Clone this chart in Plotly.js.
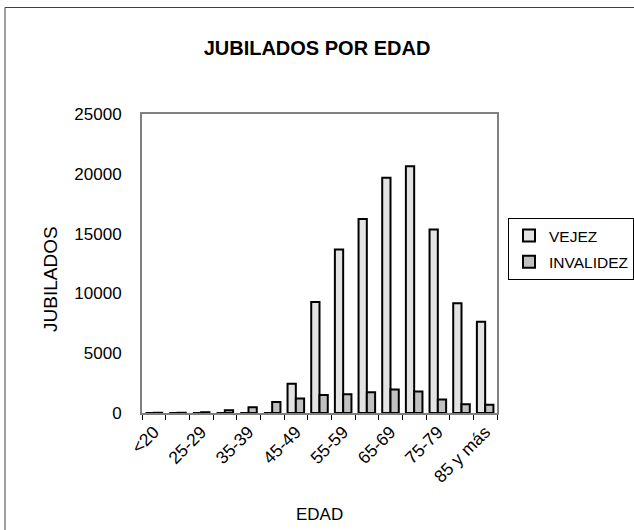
<!DOCTYPE html>
<html>
<head>
<meta charset="utf-8">
<script src="https://cdn.plot.ly/plotly-3.0.1.min.js"></script>
<style>
  html, body { margin: 0; padding: 0; background: #ffffff; }
  #chart { width: 634px; height: 530px; }
</style>
</head>
<body>
<div id="chart"></div>
<script>
const categories = ["<20", "20-24", "25-29", "30-34", "35-39", "40-44", "45-49", "50-54", "55-59", "60-64", "65-69", "70-74", "75-79", "80-84", "85 y más"];
const tickLabels = ["<20", "", "25-29", "", "35-39", "", "45-49", "", "55-59", "", "65-69", "", "75-79", "", "85 y más"];
const vejez = [0, 0, 0, 0, 0, 0, 2450, 9280, 13680, 16230, 19660, 20630, 15350, 9170, 7630];
const invalidez = [20, 20, 65, 230, 480, 930, 1205, 1510, 1570, 1735, 1955, 1790, 1120, 735, 680];
const yTicks = [0, 5000, 10000, 15000, 20000, 25000];
const yTickLabels = ["0", "5000", "10000", "15000", "20000", "25000"];

const FONT = "Liberation Sans, Arial, sans-serif";

const traces = [
  {
    type: "bar", name: "VEJEZ", x: categories, y: vejez, legendgroup: "a",
    marker: { color: "#e3e3e3", line: { color: "#000000", width: 2 } },
    hoverinfo: "x+y"
  },
  {
    type: "bar", name: "INVALIDEZ", x: categories, y: invalidez, legendgroup: "b",
    marker: { color: "#c0c0c0", line: { color: "#000000", width: 2 } },
    hoverinfo: "x+y"
  }
];

const layout = {
  width: 634, height: 530,
  margin: { l: 142, r: 137, t: 114, b: 117, autoexpand: false },
  paper_bgcolor: "#ffffff", plot_bgcolor: "#ffffff",
  font: { family: FONT, color: "#000000" },
  barmode: "group", bargap: 0.3, bargroupgap: 0,
  title: {
    text: "<b>JUBILADOS POR EDAD</b>",
    font: { family: FONT, size: 20, color: "#000000" },
    x: 0.5, xref: "container", xanchor: "center",
    y: 1 - 48 / 530, yref: "container", yanchor: "middle"
  },
  xaxis: {
    type: "category",
    tickvals: categories, ticktext: tickLabels,
    tickangle: -45, tickson: "boundaries",
    ticks: "outside", ticklen: 5, tickcolor: "#000000", tickwidth: 1,
    tickfont: { family: FONT, size: 17.5, color: "#000000" },
    showline: true, linecolor: "#808080", linewidth: 2, mirror: true,
    showgrid: false, zeroline: false, fixedrange: true
  },
  yaxis: {
    range: [0, 25000], tickvals: yTicks, ticktext: yTickLabels,
    ticks: "", ticklabelstandoff: 15,
    tickfont: { family: FONT, size: 17, color: "#000000" },
    showline: true, linecolor: "#808080", linewidth: 2, mirror: true,
    showgrid: false, zeroline: false, fixedrange: true
  },
  showlegend: true,
  legend: {
    x: (508 - 142) / 355, xanchor: "left",
    y: (413 - 218) / 299, yanchor: "top",
    bordercolor: "#000000", borderwidth: 1, bgcolor: "#ffffff",
    font: { family: FONT, size: 15.5, color: "#000000" },
    traceorder: "grouped", tracegroupgap: 3, itemwidth: 30
  },
  annotations: [
    {
      text: "JUBILADOS", textangle: -90, showarrow: false,
      xref: "paper", yref: "paper",
      x: (50 - 142) / 355, y: (413 - 279) / 299,
      xanchor: "center", yanchor: "middle",
      font: { family: FONT, size: 19, color: "#000000" }
    },
    {
      text: "EDAD", showarrow: false,
      xref: "paper", yref: "paper",
      x: 0.5, y: (413 - 514) / 299,
      xanchor: "center", yanchor: "middle",
      font: { family: FONT, size: 17, color: "#000000" }
    }
  ],
  shapes: [
    {
      type: "rect", xref: "paper", yref: "paper",
      x0: (5 - 142) / 355, x1: (700 - 142) / 355,
      y0: (413 - 600) / 299, y1: (413 - 7.5) / 299,
      line: { color: "#404040", width: 1 }, fillcolor: "rgba(0,0,0,0)",
      layer: "below"
    }
  ]
};

Plotly.newPlot("chart", traces, layout, { displayModeBar: false, staticPlot: true });
</script>
</body>
</html>
